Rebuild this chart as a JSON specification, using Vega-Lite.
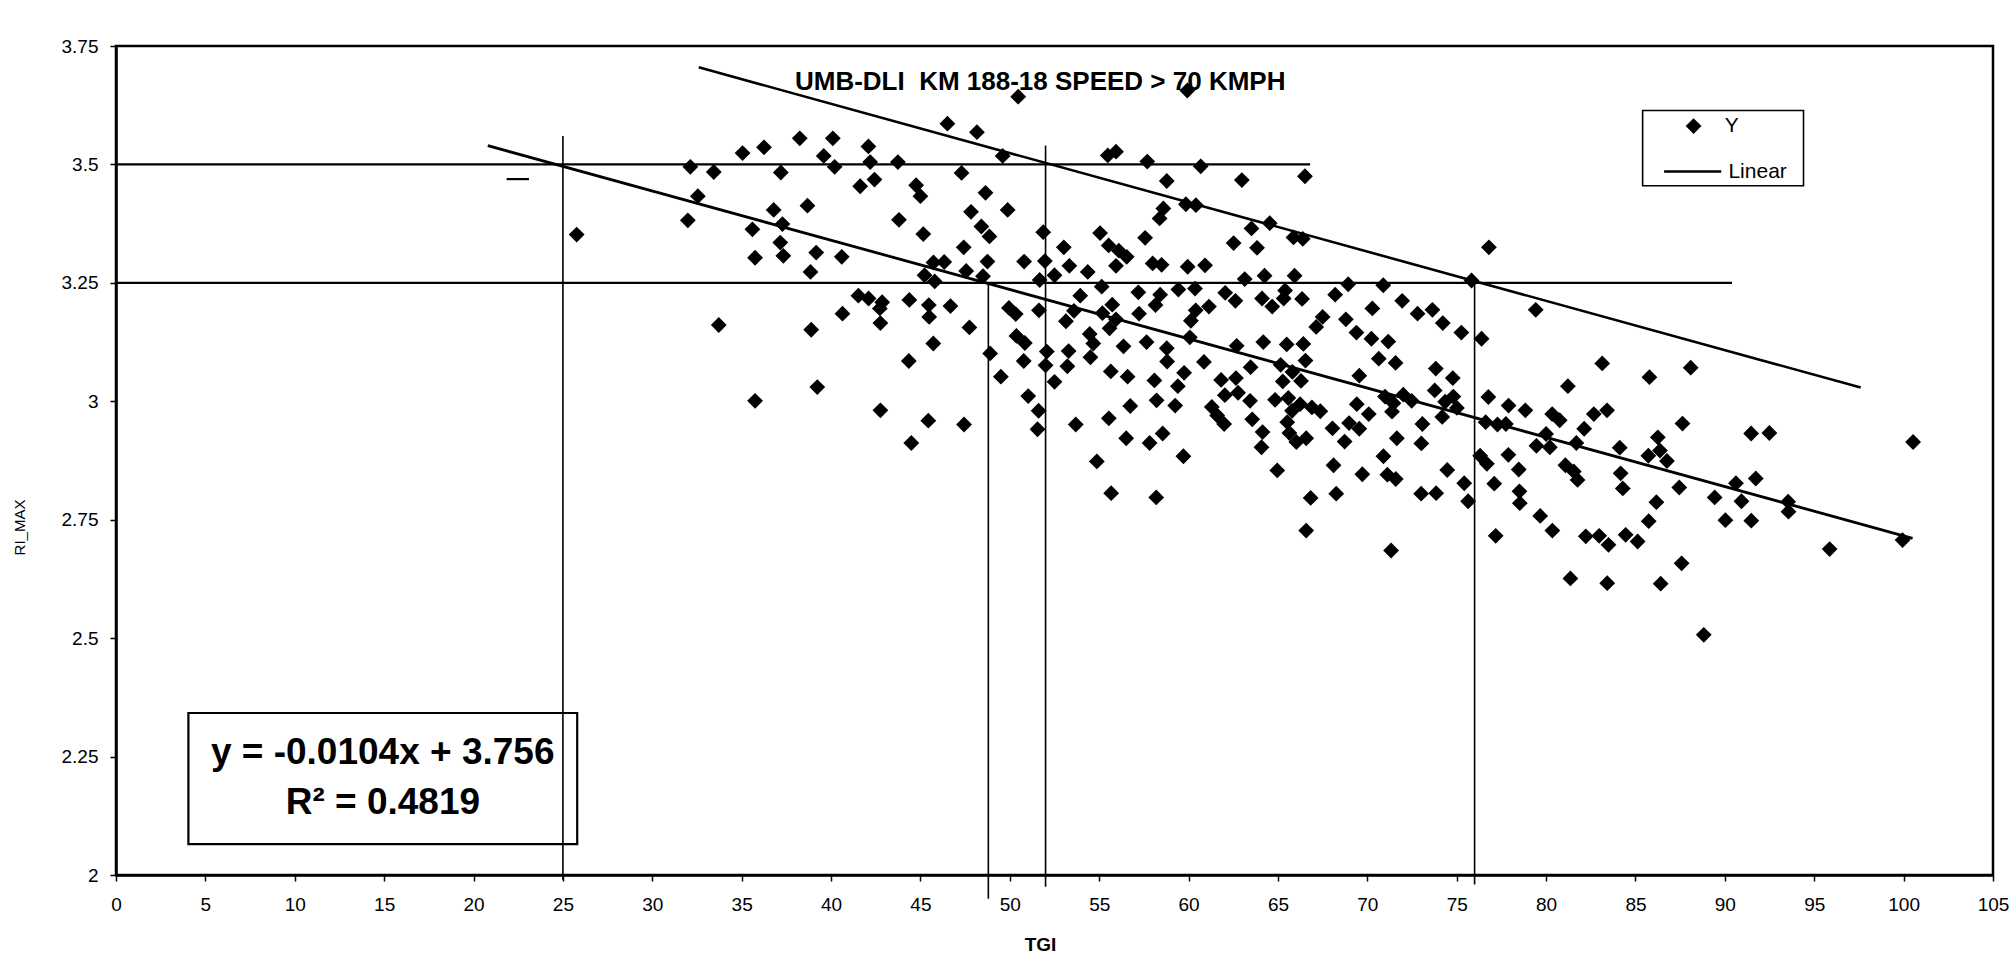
{
  "$schema": "https://vega.github.io/schema/vega-lite/v6.json",
  "width": 1877,
  "height": 829,
  "autosize": {"type": "none"},
  "padding": {"left": 116, "top": 46, "right": 23, "bottom": 87},
  "background": "white",
  "config": {
    "font": "Liberation Sans",
    "view": {"stroke": "black", "strokeWidth": 2.5},
    "axis": {
      "grid": false,
      "domainColor": "black",
      "domainWidth": 2.5,
      "tickColor": "black",
      "tickWidth": 1.5,
      "tickSize": 6,
      "labelColor": "black",
      "labelFontSize": 19,
      "titleColor": "black"
    }
  },
  "datasets": {
    "pts": [
      {"tgi": 25.77, "ri": 3.352}, {"tgi": 32.13, "ri": 3.495}, {"tgi": 33.44, "ri": 3.484}, {"tgi": 35.05, "ri": 3.524},
      {"tgi": 36.25, "ri": 3.536}, {"tgi": 38.25, "ri": 3.555}, {"tgi": 40.10, "ri": 3.555}, {"tgi": 39.59, "ri": 3.518},
      {"tgi": 40.2, "ri": 3.495}, {"tgi": 42.09, "ri": 3.538}, {"tgi": 42.19, "ri": 3.505}, {"tgi": 43.74, "ri": 3.505},
      {"tgi": 37.19, "ri": 3.483}, {"tgi": 41.63, "ri": 3.454}, {"tgi": 42.43, "ri": 3.468}, {"tgi": 44.76, "ri": 3.456},
      {"tgi": 45.0, "ri": 3.433}, {"tgi": 32.55, "ri": 3.433}, {"tgi": 31.99, "ri": 3.382}, {"tgi": 36.79, "ri": 3.404},
      {"tgi": 38.68, "ri": 3.413}, {"tgi": 37.28, "ri": 3.374}, {"tgi": 35.6, "ri": 3.363}, {"tgi": 43.8, "ri": 3.383},
      {"tgi": 45.16, "ri": 3.353}, {"tgi": 37.16, "ri": 3.335}, {"tgi": 37.33, "ri": 3.307}, {"tgi": 35.75, "ri": 3.303},
      {"tgi": 39.17, "ri": 3.314}, {"tgi": 40.6, "ri": 3.305}, {"tgi": 38.85, "ri": 3.273}, {"tgi": 45.73, "ri": 3.293},
      {"tgi": 46.33, "ri": 3.294}, {"tgi": 45.23, "ri": 3.266}, {"tgi": 45.8, "ri": 3.253}, {"tgi": 41.53, "ri": 3.223},
      {"tgi": 42.1, "ri": 3.217}, {"tgi": 42.86, "ri": 3.209}, {"tgi": 42.73, "ri": 3.196}, {"tgi": 44.38, "ri": 3.214},
      {"tgi": 45.47, "ri": 3.203}, {"tgi": 45.49, "ri": 3.178}, {"tgi": 46.68, "ri": 3.201}, {"tgi": 40.64, "ri": 3.185},
      {"tgi": 33.72, "ri": 3.161}, {"tgi": 38.89, "ri": 3.151}, {"tgi": 42.76, "ri": 3.165}, {"tgi": 45.72, "ri": 3.122},
      {"tgi": 44.35, "ri": 3.085}, {"tgi": 46.51, "ri": 3.586},
      {"tgi": 35.75, "ri": 3.001}, {"tgi": 39.23, "ri": 3.03}, {"tgi": 42.76, "ri": 2.981}, {"tgi": 45.44, "ri": 2.959},
      {"tgi": 44.49, "ri": 2.912},
      {"tgi": 50.47, "ri": 3.643}, {"tgi": 59.93, "ri": 3.656}, {"tgi": 48.16, "ri": 3.568}, {"tgi": 49.6, "ri": 3.518},
      {"tgi": 47.3, "ri": 3.482}, {"tgi": 55.48, "ri": 3.519}, {"tgi": 55.94, "ri": 3.527}, {"tgi": 57.69, "ri": 3.506},
      {"tgi": 60.68, "ri": 3.496}, {"tgi": 58.78, "ri": 3.465}, {"tgi": 62.98, "ri": 3.467}, {"tgi": 66.51, "ri": 3.475},
      {"tgi": 48.64, "ri": 3.44}, {"tgi": 49.88, "ri": 3.404}, {"tgi": 47.83, "ri": 3.4}, {"tgi": 48.41, "ri": 3.369},
      {"tgi": 48.86, "ri": 3.348}, {"tgi": 47.42, "ri": 3.325}, {"tgi": 51.87, "ri": 3.357}, {"tgi": 55.05, "ri": 3.355},
      {"tgi": 55.53, "ri": 3.329}, {"tgi": 56.1, "ri": 3.318}, {"tgi": 56.54, "ri": 3.305}, {"tgi": 57.57, "ri": 3.345},
      {"tgi": 58.59, "ri": 3.407}, {"tgi": 58.38, "ri": 3.386}, {"tgi": 59.85, "ri": 3.416}, {"tgi": 60.41, "ri": 3.414},
      {"tgi": 62.52, "ri": 3.334}, {"tgi": 63.52, "ri": 3.365}, {"tgi": 63.83, "ri": 3.324}, {"tgi": 64.54, "ri": 3.376},
      {"tgi": 65.87, "ri": 3.346}, {"tgi": 66.39, "ri": 3.343}, {"tgi": 50.8, "ri": 3.295}, {"tgi": 51.96, "ri": 3.296},
      {"tgi": 53.02, "ri": 3.325}, {"tgi": 53.33, "ri": 3.286}, {"tgi": 48.75, "ri": 3.295}, {"tgi": 47.56, "ri": 3.275},
      {"tgi": 55.94, "ri": 3.286}, {"tgi": 57.99, "ri": 3.291}, {"tgi": 58.49, "ri": 3.288}, {"tgi": 59.95, "ri": 3.284},
      {"tgi": 60.92, "ri": 3.287}, {"tgi": 54.36, "ri": 3.273}, {"tgi": 51.67, "ri": 3.256}, {"tgi": 52.5, "ri": 3.266},
      {"tgi": 48.5, "ri": 3.264}, {"tgi": 63.14, "ri": 3.258}, {"tgi": 64.25, "ri": 3.265}, {"tgi": 65.93, "ri": 3.265},
      {"tgi": 55.14, "ri": 3.242}, {"tgi": 57.19, "ri": 3.23}, {"tgi": 58.41, "ri": 3.225}, {"tgi": 59.43, "ri": 3.236},
      {"tgi": 60.36, "ri": 3.238}, {"tgi": 62.05, "ri": 3.229}, {"tgi": 68.2, "ri": 3.225}, {"tgi": 68.93, "ri": 3.247},
      {"tgi": 70.89, "ri": 3.245}, {"tgi": 71.95, "ri": 3.212}, {"tgi": 72.81, "ri": 3.185}, {"tgi": 70.28, "ri": 3.196},
      {"tgi": 73.64, "ri": 3.193}, {"tgi": 47.74, "ri": 3.156}, {"tgi": 49.95, "ri": 3.197}, {"tgi": 50.33, "ri": 3.184},
      {"tgi": 51.63, "ri": 3.192}, {"tgi": 53.14, "ri": 3.169}, {"tgi": 53.59, "ri": 3.191}, {"tgi": 53.94, "ri": 3.223},
      {"tgi": 55.73, "ri": 3.204}, {"tgi": 55.94, "ri": 3.173}, {"tgi": 55.18, "ri": 3.186}, {"tgi": 58.15, "ri": 3.203},
      {"tgi": 60.13, "ri": 3.17}, {"tgi": 60.4, "ri": 3.192}, {"tgi": 61.14, "ri": 3.2}, {"tgi": 62.62, "ri": 3.212},
      {"tgi": 64.11, "ri": 3.217}, {"tgi": 64.68, "ri": 3.2}, {"tgi": 65.32, "ri": 3.217}, {"tgi": 66.35, "ri": 3.216},
      {"tgi": 67.5, "ri": 3.178}, {"tgi": 67.14, "ri": 3.157}, {"tgi": 68.8, "ri": 3.173}, {"tgi": 69.39, "ri": 3.145},
      {"tgi": 70.23, "ri": 3.132}, {"tgi": 71.17, "ri": 3.126}, {"tgi": 50.37, "ri": 3.138}, {"tgi": 50.84, "ri": 3.123},
      {"tgi": 48.9, "ri": 3.101}, {"tgi": 52.07, "ri": 3.105}, {"tgi": 53.29, "ri": 3.106}, {"tgi": 54.47, "ri": 3.142},
      {"tgi": 54.67, "ri": 3.122}, {"tgi": 55.58, "ri": 3.154}, {"tgi": 56.36, "ri": 3.116}, {"tgi": 57.65, "ri": 3.125},
      {"tgi": 58.78, "ri": 3.112}, {"tgi": 60.07, "ri": 3.135}, {"tgi": 62.69, "ri": 3.117}, {"tgi": 64.18, "ri": 3.125},
      {"tgi": 65.49, "ri": 3.12}, {"tgi": 66.42, "ri": 3.121}, {"tgi": 57.23, "ri": 3.185}, {"tgi": 65.4, "ri": 3.234},
      {"tgi": 47.44, "ri": 2.951}, {"tgi": 49.5, "ri": 3.052}, {"tgi": 51.03, "ri": 3.011}, {"tgi": 51.61, "ri": 2.98},
      {"tgi": 51.55, "ri": 2.941}, {"tgi": 52.5, "ri": 3.041}, {"tgi": 50.78, "ri": 3.085}, {"tgi": 52.0, "ri": 3.076},
      {"tgi": 53.22, "ri": 3.074}, {"tgi": 54.51, "ri": 3.093}, {"tgi": 53.69, "ri": 2.951}, {"tgi": 55.54, "ri": 2.964},
      {"tgi": 56.51, "ri": 2.922}, {"tgi": 57.82, "ri": 2.912}, {"tgi": 58.55, "ri": 2.932}, {"tgi": 54.87, "ri": 2.873},
      {"tgi": 55.67, "ri": 2.806}, {"tgi": 58.19, "ri": 2.797}, {"tgi": 59.71, "ri": 2.884}, {"tgi": 56.74, "ri": 2.99},
      {"tgi": 58.21, "ri": 3.002}, {"tgi": 59.25, "ri": 2.991}, {"tgi": 58.09, "ri": 3.044}, {"tgi": 56.59, "ri": 3.052},
      {"tgi": 55.65, "ri": 3.063}, {"tgi": 59.4, "ri": 3.032}, {"tgi": 59.75, "ri": 3.06}, {"tgi": 58.8, "ri": 3.084},
      {"tgi": 60.86, "ri": 3.083}, {"tgi": 61.3, "ri": 2.988}, {"tgi": 61.6, "ri": 2.97}, {"tgi": 61.99, "ri": 2.952},
      {"tgi": 61.82, "ri": 3.045}, {"tgi": 62.65, "ri": 3.049}, {"tgi": 62.03, "ri": 3.013}, {"tgi": 62.77, "ri": 3.018},
      {"tgi": 63.47, "ri": 3.072}, {"tgi": 63.44, "ri": 3.001}, {"tgi": 63.56, "ri": 2.962}, {"tgi": 64.14, "ri": 2.935},
      {"tgi": 64.08, "ri": 2.903}, {"tgi": 64.96, "ri": 2.854}, {"tgi": 64.84, "ri": 3.003}, {"tgi": 65.58, "ri": 3.007},
      {"tgi": 65.79, "ri": 2.98}, {"tgi": 66.24, "ri": 2.994}, {"tgi": 66.9, "ri": 2.987}, {"tgi": 67.37, "ri": 2.979},
      {"tgi": 65.52, "ri": 2.956}, {"tgi": 65.64, "ri": 2.933}, {"tgi": 66.03, "ri": 2.914}, {"tgi": 66.58, "ri": 2.922},
      {"tgi": 65.15, "ri": 3.077}, {"tgi": 65.81, "ri": 3.062}, {"tgi": 66.54, "ri": 3.086}, {"tgi": 66.29, "ri": 3.043},
      {"tgi": 65.27, "ri": 3.042}, {"tgi": 68.05, "ri": 2.943}, {"tgi": 68.73, "ri": 2.915}, {"tgi": 68.98, "ri": 2.954},
      {"tgi": 69.55, "ri": 2.942}, {"tgi": 69.41, "ri": 2.994}, {"tgi": 70.08, "ri": 2.973}, {"tgi": 68.11, "ri": 2.865},
      {"tgi": 69.72, "ri": 2.846}, {"tgi": 68.26, "ri": 2.805}, {"tgi": 66.83, "ri": 2.796}, {"tgi": 66.58, "ri": 2.727},
      {"tgi": 71.33, "ri": 2.685}, {"tgi": 70.9, "ri": 2.884}, {"tgi": 71.12, "ri": 2.845}, {"tgi": 71.59, "ri": 2.836},
      {"tgi": 71.65, "ri": 2.922}, {"tgi": 70.64, "ri": 3.09}, {"tgi": 71.58, "ri": 3.081}, {"tgi": 69.55, "ri": 3.054},
      {"tgi": 70.99, "ri": 3.01}, {"tgi": 71.46, "ri": 2.996}, {"tgi": 72.01, "ri": 3.014}, {"tgi": 72.48, "ri": 3.001},
      {"tgi": 71.38, "ri": 2.978}, {"tgi": 73.08, "ri": 2.952}, {"tgi": 73.02, "ri": 2.911}, {"tgi": 73.01, "ri": 2.805},
      {"tgi": 73.85, "ri": 2.806}, {"tgi": 73.77, "ri": 3.023}, {"tgi": 73.83, "ri": 3.069},
      {"tgi": 76.8, "ri": 3.325}, {"tgi": 75.83, "ri": 3.255}, {"tgi": 79.42, "ri": 3.193}, {"tgi": 74.22, "ri": 3.165},
      {"tgi": 75.26, "ri": 3.145}, {"tgi": 76.39, "ri": 3.132},
      {"tgi": 74.78, "ri": 3.049}, {"tgi": 74.35, "ri": 2.999}, {"tgi": 74.81, "ri": 3.01}, {"tgi": 75.01, "ri": 2.986},
      {"tgi": 74.19, "ri": 2.967}, {"tgi": 83.14, "ri": 3.08}, {"tgi": 85.78, "ri": 3.051}, {"tgi": 88.09, "ri": 3.071},
      {"tgi": 81.22, "ri": 3.032}, {"tgi": 76.77, "ri": 3.009}, {"tgi": 77.9, "ri": 2.991}, {"tgi": 78.84, "ri": 2.981},
      {"tgi": 80.34, "ri": 2.973}, {"tgi": 80.76, "ri": 2.96}, {"tgi": 82.67, "ri": 2.973}, {"tgi": 83.41, "ri": 2.981},
      {"tgi": 82.13, "ri": 2.942}, {"tgi": 76.62, "ri": 2.956}, {"tgi": 77.28, "ri": 2.951}, {"tgi": 77.75, "ri": 2.952},
      {"tgi": 80.0, "ri": 2.931}, {"tgi": 79.46, "ri": 2.906}, {"tgi": 80.21, "ri": 2.903}, {"tgi": 81.69, "ri": 2.912},
      {"tgi": 84.12, "ri": 2.902}, {"tgi": 86.25, "ri": 2.924}, {"tgi": 85.72, "ri": 2.885}, {"tgi": 86.37, "ri": 2.896},
      {"tgi": 86.76, "ri": 2.874}, {"tgi": 87.63, "ri": 2.953}, {"tgi": 91.47, "ri": 2.932}, {"tgi": 92.49, "ri": 2.933},
      {"tgi": 100.53, "ri": 2.914}, {"tgi": 90.62, "ri": 2.827}, {"tgi": 91.73, "ri": 2.837}, {"tgi": 93.54, "ri": 2.788},
      {"tgi": 93.56, "ri": 2.767}, {"tgi": 99.94, "ri": 2.707}, {"tgi": 95.86, "ri": 2.688}, {"tgi": 89.43, "ri": 2.797},
      {"tgi": 90.93, "ri": 2.789}, {"tgi": 90.03, "ri": 2.749}, {"tgi": 91.48, "ri": 2.748}, {"tgi": 87.45, "ri": 2.818},
      {"tgi": 86.17, "ri": 2.787}, {"tgi": 85.74, "ri": 2.747}, {"tgi": 84.17, "ri": 2.848}, {"tgi": 84.29, "ri": 2.816},
      {"tgi": 81.08, "ri": 2.865}, {"tgi": 81.55, "ri": 2.852}, {"tgi": 81.76, "ri": 2.834}, {"tgi": 77.89, "ri": 2.887},
      {"tgi": 78.47, "ri": 2.856}, {"tgi": 76.31, "ri": 2.885}, {"tgi": 76.69, "ri": 2.868}, {"tgi": 74.47, "ri": 2.855},
      {"tgi": 75.42, "ri": 2.827}, {"tgi": 77.1, "ri": 2.826}, {"tgi": 78.51, "ri": 2.81}, {"tgi": 78.53, "ri": 2.785},
      {"tgi": 75.64, "ri": 2.789}, {"tgi": 79.67, "ri": 2.758}, {"tgi": 80.35, "ri": 2.727}, {"tgi": 77.18, "ri": 2.716},
      {"tgi": 82.22, "ri": 2.715}, {"tgi": 82.97, "ri": 2.716}, {"tgi": 83.49, "ri": 2.697}, {"tgi": 84.45, "ri": 2.718},
      {"tgi": 85.12, "ri": 2.704}, {"tgi": 87.58, "ri": 2.658}, {"tgi": 81.36, "ri": 2.626}, {"tgi": 83.42, "ri": 2.616},
      {"tgi": 86.41, "ri": 2.615}, {"tgi": 88.82, "ri": 2.507}
    ],
    "fit": [{"tgi": 20.8, "ri": 3.5397, "tgi2": 100.5, "ri2": 2.7108}],
    "band": [{"tgi": 32.6, "ri": 3.705, "tgi2": 97.6, "ri2": 3.029}],
    "limits": [
      {"tgi": 0, "ri": 3.5, "tgi2": 66.8, "ri2": 3.5},
      {"tgi": 0, "ri": 3.25, "tgi2": 90.4, "ri2": 3.25},
      {"tgi": 21.85, "ri": 3.469, "tgi2": 23.1, "ri2": 3.469}
    ],
    "drops": [
      {"tgi": 25.0, "ri": 1.99, "ri2": 3.56},
      {"tgi": 48.8, "ri": 1.95, "ri2": 3.25},
      {"tgi": 52.0, "ri": 1.975, "ri2": 3.54},
      {"tgi": 76.0, "ri": 1.98, "ri2": 3.26}
    ],
    "one": [{}]
  },
  "layer": [
    {
      "data": {"name": "pts"},
      "mark": {"type": "point", "shape": "diamond", "filled": true, "size": 250, "color": "black", "opacity": 1},
      "encoding": {
        "x": {
          "field": "tgi", "type": "quantitative",
          "scale": {"domain": [0, 105], "nice": false, "zero": false},
          "axis": {
            "values": [0, 5, 10, 15, 20, 25, 30, 35, 40, 45, 50, 55, 60, 65, 70, 75, 80, 85, 90, 95, 100, 105],
            "labelPadding": 14,
            "labelFlush": false,
            "title": "TGI",
            "titleFontSize": 19,
            "titleFontWeight": "bold",
            "titleX": 924,
            "titleY": 69,
            "titleAlign": "center",
            "titleBaseline": "middle"
          }
        },
        "y": {
          "field": "ri", "type": "quantitative",
          "scale": {"domain": [2, 3.75], "nice": false, "zero": false},
          "axis": {
            "values": [2, 2.25, 2.5, 2.75, 3, 3.25, 3.5, 3.75],
            "format": ".4~g",
            "labelPadding": 12,
            "labelFlush": false,
            "title": "RI_MAX",
            "titleFontSize": 15,
            "titleFontWeight": "normal",
            "titleX": -97,
            "titleY": 481,
            "titleAlign": "center",
            "titleBaseline": "middle"
          }
        }
      }
    },
    {
      "data": {"name": "limits"},
      "mark": {"type": "rule", "color": "black", "strokeWidth": 2.2},
      "encoding": {
        "x": {"field": "tgi", "type": "quantitative"},
        "y": {"field": "ri", "type": "quantitative"},
        "x2": {"field": "tgi2"},
        "y2": {"field": "ri2"}
      }
    },
    {
      "data": {"name": "drops"},
      "mark": {"type": "rule", "color": "black", "strokeWidth": 1.6},
      "encoding": {
        "x": {"field": "tgi", "type": "quantitative"},
        "y": {"field": "ri", "type": "quantitative"},
        "y2": {"field": "ri2"}
      }
    },
    {
      "data": {"name": "band"},
      "mark": {"type": "rule", "color": "black", "strokeWidth": 2.6},
      "encoding": {
        "x": {"field": "tgi", "type": "quantitative"},
        "y": {"field": "ri", "type": "quantitative"},
        "x2": {"field": "tgi2"},
        "y2": {"field": "ri2"}
      }
    },
    {
      "data": {"name": "fit"},
      "mark": {"type": "rule", "color": "black", "strokeWidth": 2.8},
      "encoding": {
        "x": {"field": "tgi", "type": "quantitative"},
        "y": {"field": "ri", "type": "quantitative"},
        "x2": {"field": "tgi2"},
        "y2": {"field": "ri2"}
      }
    },
    {
      "data": {"name": "one"},
      "mark": {"type": "text", "text": "UMB-DLI\u00a0 KM 188-18 SPEED > 70 KMPH", "fontSize": 26, "fontWeight": "bold", "color": "black", "align": "center", "baseline": "middle"},
      "encoding": {
        "x": {"datum": 51.7, "type": "quantitative"},
        "y": {"datum": 3.673, "type": "quantitative"}
      }
    },
    {
      "data": {"name": "one"},
      "mark": {"type": "rect", "fill": "white", "fillOpacity": 0, "stroke": "black", "strokeWidth": 2.2},
      "encoding": {
        "x": {"datum": 4.05, "type": "quantitative"},
        "x2": {"datum": 25.8},
        "y": {"datum": 2.065, "type": "quantitative"},
        "y2": {"datum": 2.342}
      }
    },
    {
      "data": {"name": "one"},
      "mark": {"type": "text", "text": "y = -0.0104x + 3.756", "fontSize": 37, "fontWeight": "bold", "color": "black", "align": "center", "baseline": "middle"},
      "encoding": {
        "x": {"datum": 14.92, "type": "quantitative"},
        "y": {"datum": 2.258, "type": "quantitative"}
      }
    },
    {
      "data": {"name": "one"},
      "mark": {"type": "text", "text": "R² = 0.4819", "fontSize": 37, "fontWeight": "bold", "color": "black", "align": "center", "baseline": "middle"},
      "encoding": {
        "x": {"datum": 14.93, "type": "quantitative"},
        "y": {"datum": 2.151, "type": "quantitative"}
      }
    },
    {
      "data": {"name": "one"},
      "mark": {"type": "rect", "fill": "white", "stroke": "black", "strokeWidth": 1.6},
      "encoding": {
        "x": {"datum": 85.4, "type": "quantitative"},
        "x2": {"datum": 94.4},
        "y": {"datum": 3.455, "type": "quantitative"},
        "y2": {"datum": 3.614}
      }
    },
    {
      "data": {"name": "one"},
      "mark": {"type": "point", "shape": "diamond", "filled": true, "size": 250, "color": "black", "opacity": 1},
      "encoding": {
        "x": {"datum": 88.25, "type": "quantitative"},
        "y": {"datum": 3.581, "type": "quantitative"}
      }
    },
    {
      "data": {"name": "one"},
      "mark": {"type": "text", "text": "Y", "fontSize": 21, "color": "black", "align": "left", "baseline": "middle"},
      "encoding": {
        "x": {"datum": 90.0, "type": "quantitative"},
        "y": {"datum": 3.582, "type": "quantitative"}
      }
    },
    {
      "data": {"name": "one"},
      "mark": {"type": "rule", "color": "black", "strokeWidth": 2.5},
      "encoding": {
        "x": {"datum": 86.6, "type": "quantitative"},
        "x2": {"datum": 89.8},
        "y": {"datum": 3.485, "type": "quantitative"}
      }
    },
    {
      "data": {"name": "one"},
      "mark": {"type": "text", "text": "Linear", "fontSize": 21, "color": "black", "align": "left", "baseline": "middle"},
      "encoding": {
        "x": {"datum": 90.2, "type": "quantitative"},
        "y": {"datum": 3.485, "type": "quantitative"}
      }
    }
  ]
}
